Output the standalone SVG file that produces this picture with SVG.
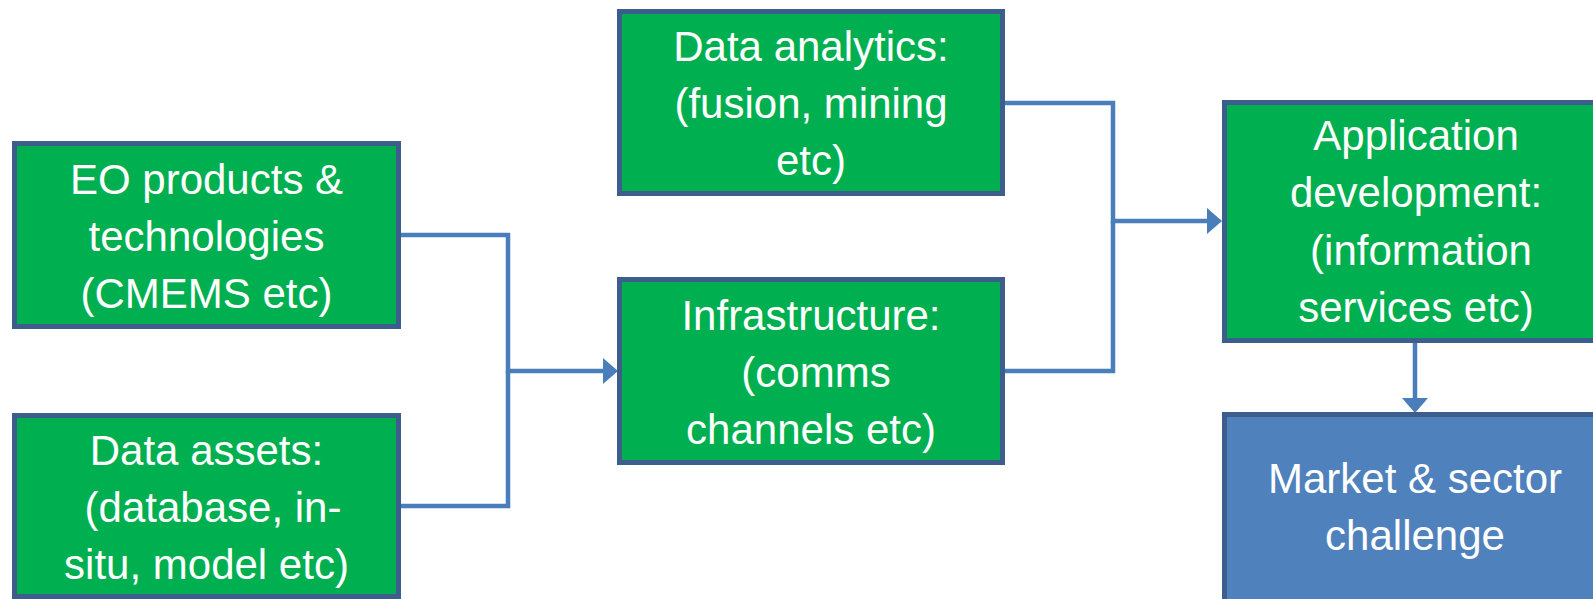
<svg xmlns="http://www.w3.org/2000/svg" width="1593" height="599" viewBox="0 0 1593 599">
  <style>
    .box { fill: #00b050; stroke: #3d5e8c; stroke-width: 5; }
    .box2 { fill: #4f81bd; stroke: #3d5e8c; stroke-width: 5; }
    .lbl { font-family: "Liberation Sans", Arial, sans-serif; font-size: 42px; fill: #ffffff; text-anchor: middle; }
    .conn { fill: none; stroke: #4a7ebb; stroke-width: 4.5; }
  </style>
  <defs>
    <marker id="arrow" viewBox="0 0 15 26" refX="7" refY="13" markerWidth="15" markerHeight="26" markerUnits="userSpaceOnUse" orient="auto">
      <path d="M0,0 L15,13 L0,26 z" fill="#4a7ebb"/>
    </marker>
  </defs>
  <rect width="1593" height="599" fill="#ffffff"/>

  <g id="connectors">
    <path class="conn" d="M401,235 H508 V371 H610" marker-end="url(#arrow)"/>
    <path class="conn" d="M401,506 H508 V371"/>
    <path class="conn" d="M1005,103 H1113 V221 H1214" marker-end="url(#arrow)"/>
    <path class="conn" d="M1005,371 H1113 V221"/>
    <path class="conn" d="M1415,343 V405" marker-end="url(#arrow)"/>
  </g>

  <g id="eo-products">
    <rect class="box" x="14.5" y="143.5" width="384" height="183"/>
    <text class="lbl" x="206.5" y="194">EO products &amp;</text>
    <text class="lbl" x="206.5" y="251">technologies</text>
    <text class="lbl" x="206.5" y="308">(CMEMS etc)</text>
  </g>

  <g id="data-assets">
    <rect class="box" x="14.5" y="415.5" width="384" height="181"/>
    <text class="lbl" x="206.5" y="465">Data assets:</text>
    <text class="lbl" x="213" y="522">(database, in-</text>
    <text class="lbl" x="206.5" y="579">situ, model etc)</text>
  </g>

  <g id="data-analytics">
    <rect class="box" x="619.5" y="11.5" width="383" height="182"/>
    <text class="lbl" x="811" y="61">Data analytics:</text>
    <text class="lbl" x="811" y="118">(fusion, mining</text>
    <text class="lbl" x="811" y="175">etc)</text>
  </g>

  <g id="infrastructure">
    <rect class="box" x="619.5" y="279.5" width="383" height="183"/>
    <text class="lbl" x="811" y="330">Infrastructure:</text>
    <text class="lbl" x="816" y="387">(comms</text>
    <text class="lbl" x="811" y="444">channels etc)</text>
  </g>

  <g id="application-development">
    <rect class="box" x="1224.5" y="102.5" width="384" height="238"/>
    <text class="lbl" x="1416" y="150">Application</text>
    <text class="lbl" x="1416" y="207">development:</text>
    <text class="lbl" x="1421" y="265">(information</text>
    <text class="lbl" x="1416" y="322">services etc)</text>
  </g>

  <g id="market-sector">
    <rect class="box2" x="1224.5" y="414.5" width="384" height="200"/>
    <text class="lbl" x="1415" y="493">Market &amp; sector</text>
    <text class="lbl" x="1415" y="550">challenge</text>
  </g>
</svg>
